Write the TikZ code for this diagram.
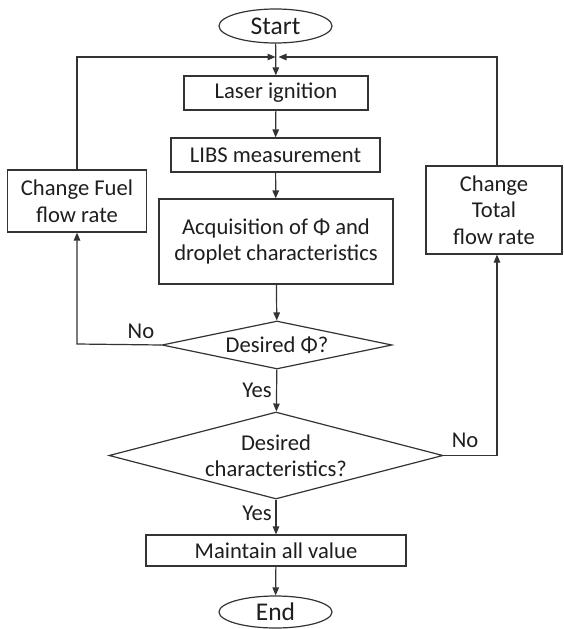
\documentclass[tikz,border=0pt]{standalone}
\usepackage{fontspec}
\setmainfont{Carlito}
\usetikzlibrary{shapes.geometric,arrows.meta}
\definecolor{linecol}{HTML}{333333}
\definecolor{txtcol}{HTML}{1E1E1E}
\begin{document}
\begin{tikzpicture}[x=1pt,y=-1pt,
  line/.style={draw=linecol, line width=1.2pt},
  arr/.style={line, -{Triangle[length=8pt,width=6.5pt]}},
  box/.style={draw=linecol, line width=1.2pt, rectangle, inner sep=0pt, align=center, text=txtcol, font=\fontsize{22.6}{26.5}\selectfont},
  oval/.style={box, ellipse, font=\fontsize{25.5}{28}\selectfont},
  dia/.style={box, diamond},
  lab/.style={text=txtcol, font=\fontsize{22.6}{26.5}\selectfont, inner sep=0pt}]
\useasboundingbox (0,0) rectangle (564,629);
\fill[white] (0,0) rectangle (564,629);

\node[oval, minimum width=113pt, minimum height=34pt] (start) at (275.5,26) {Start};
\node[box, minimum width=184pt, minimum height=34pt] (laser) at (276,93) {Laser ignition};
\node[box, minimum width=209pt, minimum height=34pt] (libs) at (275.5,155) {LIBS measurement};
\node[box, minimum width=234pt, minimum height=85pt] (acq) at (276,241.5) {Acquisition of Φ and\\droplet characteristics};
\node[dia, shape aspect=4.79, minimum width=230pt, minimum height=48pt] (dphi) at (277,345) {Desired Φ?};
\node[dia, shape aspect=3.84, minimum width=334pt, minimum height=87pt] (dchar) at (276,455.5) {Desired\\characteristics?};
\node[box, minimum width=260pt, minimum height=31pt] (maint) at (276,550.5) {Maintain all value};
\node[oval, minimum width=113pt, minimum height=32pt] (end) at (275.5,612) {End};
\node[box, minimum width=139pt, minimum height=62pt] (fuel) at (77,201) {Change Fuel\\flow rate};
\node[box, minimum width=136pt, minimum height=88pt] (total) at (494,210) {Change\\Total\\flow rate};

\coordinate (j) at (277,57);
\coordinate (lx) at (77,344);
\coordinate (rx) at (497,455.5);

\draw[arr] (start) -- (laser);
\draw[arr] (laser) -- (libs);
\draw[arr] (libs) -- (acq);
\draw[arr] (acq) -- (dphi);
\draw[arr] (dphi) -- (dchar);
\draw[arr] (dchar) -- (maint);
\draw[arr] (maint) -- (end);

\draw[arr] (dphi.west) -- (lx) -- (fuel.south);
\draw[arr] (fuel.north) -- (fuel.north |- j) -- ([xshift=-1.5pt]j);
\draw[arr] (dchar.east) -- (rx) -- (rx |- total.south);
\draw[arr] (rx |- total.north) -- (rx |- j) -- ([xshift=1.5pt]j);

\node[lab] (no1) at (141,331) {No};
\node[lab] (yes1) at (257,390) {Yes};
\node[lab] (yes2) at (257,513) {Yes};
\node[lab] (no2) at (465,440) {No};
\end{tikzpicture}
\end{document}
